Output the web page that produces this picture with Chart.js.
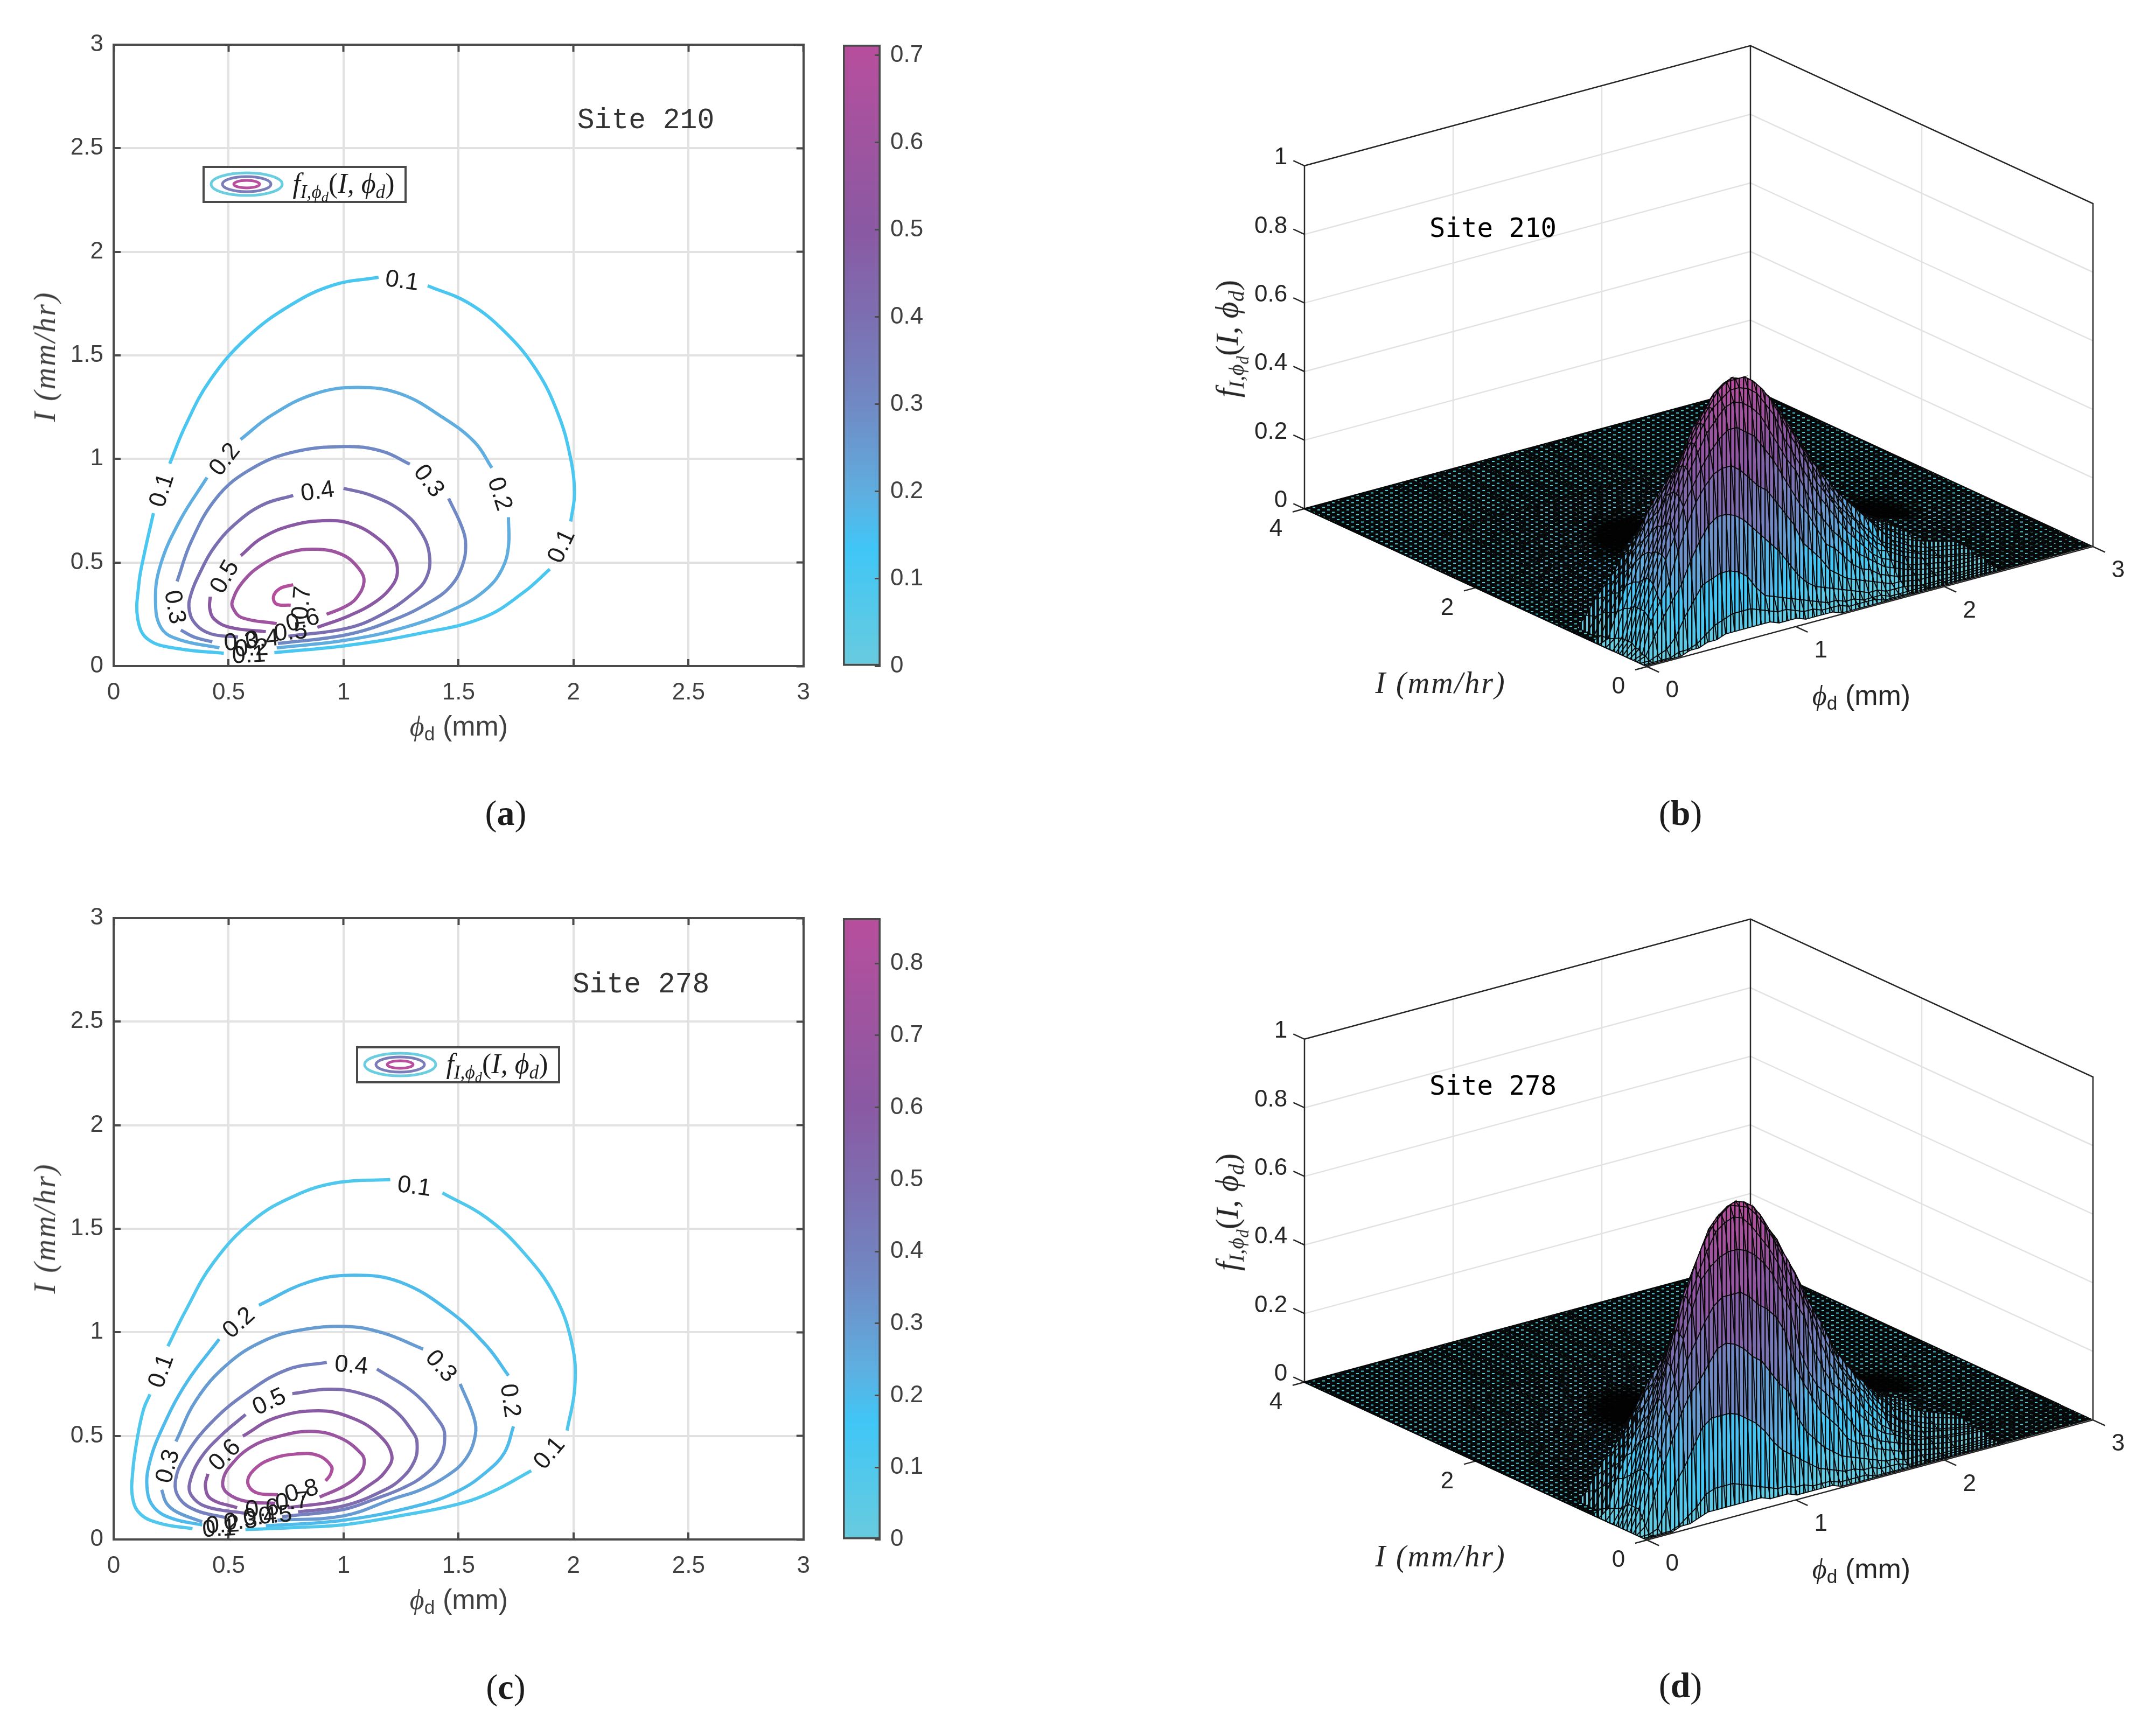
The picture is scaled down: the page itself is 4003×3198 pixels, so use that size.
<!DOCTYPE html>
<html>
<head>
<meta charset="utf-8">
<script src="https://cdn.jsdelivr.net/npm/chart.js@4"></script>
<style>
html,body{margin:0;padding:0;background:#fff}
#page{position:relative;width:4003px;height:3198px;overflow:hidden;background:#fff}
canvas{position:absolute}
.t{position:absolute;white-space:nowrap;line-height:1;z-index:5}
.t sub{font-size:.68em;vertical-align:-.28em;line-height:0}
.t sub sub{font-size:.75em}
.math{font-family:"Liberation Serif",serif;font-style:italic}
.up{font-style:normal}
.lg{position:absolute;box-sizing:border-box;width:379px;height:69px;border:4px solid #4a4a4a;background:#fff;z-index:4}
</style>
</head>
<body>
<div id="page"></div>
<script>
// shared axis ticks
const phiTicks = [0, 0.5, 1, 1.5, 2, 2.5, 3];
const intensityTicks = [0, 0.5, 1, 1.5, 2, 2.5, 3];
const cbarTicksA = [0, 0.1, 0.2, 0.3, 0.4, 0.5, 0.6, 0.7];
const cbarTicksC = [0, 0.1, 0.2, 0.3, 0.4, 0.5, 0.6, 0.7, 0.8];
const cmaxA = 0.712;
const cmaxC = 0.863;
const zTicks = [0, 0.2, 0.4, 0.6, 0.8, 1];
const iTicks3d = [0, 2, 4];
const phiTicks3d = [0, 1, 2, 3];

// colormap
const cmapStops = [0, 0.19, 0.28, 0.42, 0.56, 0.70, 0.84, 1];
const cmapColors = [[104,203,222],[64,198,246],[95,174,223],[112,137,196],[124,111,177],[138,89,163],[158,84,159],[184,78,157]];

// site 210 contours [phi, I], one list per stretch between the inline labels
const a1 = [[[.479,.062],[.287,.083],[.152,.127],[.105,.226],[.11,.4],[.131,.53],[.173,.738]],
  [[.244,.977],[.311,1.158],[.418,1.378],[.579,1.585],[.766,1.74],[.954,1.839],[1.152,1.877]],
  [[1.366,1.836],[1.543,1.753],[1.704,1.611],[1.838,1.43],[1.931,1.223],[1.985,1.016],[2.004,.835],[1.988,.698]],
  [[1.897,.468],[1.784,.357],[1.607,.234],[1.328,.157],[1.016,.0996],[.699,.065]]];
const a2 = [[[.46,.088],[.287,.127],[.208,.182],[.182,.312],[.203,.486],[.287,.70],[.406,.91]],
  [[.552,1.094],[.686,1.21],[.873,1.314],[1.061,1.345],[1.248,1.314],[1.436,1.197],[1.57,1.081],[1.645,.957]],
  [[1.717,.719],[1.717,.577],[1.69,.47],[1.625,.375],[1.5,.285],[1.276,.19],[1.016,.126],[.709,.088]]];
const a3 = [[[.429,.117],[.35,.14],[.292,.174]],
  [[.276,.409],[.338,.603],[.445,.809],[.579,.939],[.766,1.029],[1.007,1.06],[1.168,1.037],[1.288,.975]],
  [[1.457,.809],[1.516,.667],[1.531,.582],[1.515,.48],[1.465,.385],[1.38,.312],[1.224,.226],[1.016,.152],[.714,.109]]];
const a4 = [[[.541,.14],[.422,.156],[.355,.205],[.329,.27],[.334,.338],[.376,.452],[.443,.582],[.537,.694],[.651,.78],[.781,.824]],
  [[1.0,.858],[1.12,.824],[1.255,.746],[1.339,.642],[1.374,.53],[1.36,.426],[1.307,.356],[1.171,.252],[1.016,.183],[.76,.144]]];
const a5 = [[[.42,.335],[.418,.278],[.438,.226],[.506,.187],[.662,.166]],
  [[.553,.533],[.641,.616],[.765,.676],[.912,.702],[1.036,.686],[1.15,.616],[1.218,.53],[1.234,.452],[1.213,.39],[1.141,.312],[1.026,.244],[.886,.187]]];
const a6 = [[[.709,.205],[.557,.234],[.52,.278],[.516,.312],[.557,.4],[.641,.486],[.756,.546],[.879,.564],[.994,.538],[1.068,.468],[1.089,.408],[1.057,.33],[1.005,.286],[.926,.25]]];
const a7 = [[[.781,.393],[.723,.374],[.695,.335],[.709,.299],[.77,.294]]];
const contoursA = [a1, a2, a3, a4, a5, a6, a7];

// site 278 contours
const c1 = [[[.343,.052],[.204,.077],[.118,.121],[.083,.198],[.083,.327],[.102,.482],[.129,.624],[.158,.701]],
  [[.236,.933],[.311,1.1],[.431,1.332],[.605,1.539],[.793,1.662],[.98,1.724],[1.203,1.737]],
  [[1.43,1.673],[1.623,1.552],[1.784,1.384],[1.918,1.178],[1.993,.946],[2.006,.74],[1.972,.526]],
  [[1.816,.332],[1.65,.232],[1.5,.171],[1.25,.115],[1.0,.071],[.8,.058],[.573,.048]]];
const c2 = [[[.385,.07],[.255,.101],[.177,.153],[.146,.24],[.156,.37],[.214,.543],[.318,.759],[.459,.967]],
  [[.632,1.131],[.846,1.242],[1.047,1.276],[1.248,1.242],[1.463,1.1],[1.623,.933],[1.717,.791]],
  [[1.739,.546],[1.7,.42],[1.62,.325],[1.5,.235],[1.329,.165],[1.0,.093],[.662,.066]]];
const c3 = [[[.209,.24],[.23,.175],[.276,.132],[.385,.085]],
  [[.271,.473],[.359,.673],[.495,.846],[.651,.958],[.807,1.01],[1.015,1.028],[1.171,.997],[1.346,.919]],
  [[1.507,.751],[1.567,.587],[1.572,.499],[1.53,.387],[1.452,.309],[1.335,.24],[1.218,.197],[1.0,.114],[.713,.093]]];
const c4 = [[[.927,.855],[.755,.82],[.578,.707],[.422,.561],[.308,.396],[.268,.275],[.287,.197],[.359,.14],[.485,.106]],
  [[1.145,.823],[1.307,.707],[1.422,.561],[1.44,.5],[1.42,.396],[1.35,.309],[1.257,.248],[1.14,.197],[1.0,.145],[.733,.11]]];
const c5 = [[[.574,.603],[.474,.509],[.38,.395],[.331,.275],[.338,.213],[.401,.159],[.567,.127]],
  [[.777,.704],[.933,.725],[1.068,.707],[1.204,.639],[1.307,.509],[1.32,.448],[1.308,.378],[1.257,.3],[1.18,.24],[1.0,.162],[.802,.133]]];
const c6 = [[[.41,.317],[.399,.257],[.422,.197],[.537,.153]],
  [[.562,.499],[.703,.587],[.891,.621],[1.036,.587],[1.15,.509],[1.21,.404],[1.18,.326],[1.117,.266],[1.0,.195],[.756,.153]]];
const c7 = [[[.703,.174],[.578,.184],[.495,.223],[.474,.275],[.506,.353],[.599,.447],[.723,.499],[.859,.522],[.984,.491],[1.078,.413],[1.09,.37],[1.07,.318],[1.0,.257],[.896,.205]]];
const c8 = [[[.714,.216],[.62,.226],[.583,.275],[.609,.335],[.683,.387],[.797,.413],[.891,.405],[.947,.353],[.943,.314],[.922,.283]]];
const contoursC = [c1, c2, c3, c4, c5, c6, c7, c8];

// inline contour labels [text, phi, I, rotation in degrees]
const labelsA = [["0.1",1.254,1.857,8],["0.1",.212,.848,-72],["0.1",1.95,.577,-65],["0.2",.485,.996,-52],["0.2",1.677,.83,72],
  ["0.3",1.369,.892,52],["0.3",.263,.284,80],["0.4",.887,.84,-8],["0.5",.485,.43,-60],["0.7",.82,.305,-85],["0.6",.823,.218,-15],
  ["0.5",.77,.161,-5],["0.4",.646,.127,-5],["0.3",.553,.114,-5],["0.2",.6,.083,-3],["0.1",.588,.05,-3]];
const labelsC = [["0.1",1.307,1.701,8],["0.1",.209,.812,-70],["0.1",1.897,.415,-50],["0.2",.546,1.044,-42],["0.2",1.722,.67,82],
  ["0.3",1.422,.835,48],["0.3",.238,.353,-75],["0.4",1.034,.838,5],["0.5",.678,.662,-25],["0.6",.485,.405,-45],["0.8",.818,.231,-15],
  ["0.7",.776,.179,-5],["0.6",.646,.145,-5],["0.5",.703,.114,-5],["0.4",.636,.106,-5],["0.3",.552,.084,-5],["0.2",.474,.067,-3],["0.1",.459,.049,-3]];

// surface samples: z in hundredths, rows along surfaceI, columns along surfacePhi, missing tail = 0
const surfacePhi = [0,.06,.12,.18,.24,.3,.36,.42,.48,.54,.6,.66,.72,.78,.84,.9,.96,1.02,1.08,1.14,1.2,1.26,1.32,1.38,1.44,1.5,1.56,1.62,1.68,1.74,1.8,1.92,2.04,2.16,2.4,3];
const surfaceI = [.02,.04,.08,.12,.16,.2,.24,.28,.32,.36,.4,.48,.56,.64,.72,.8,.92,1.04,1.2,1.4,1.6,1.8,2,2.4,3,4];
const surfaceB = [
[0,0,0,0,0,1,1,2,2,3,3,3,3,3,3,2,2,2,1,1,1,1],
[0,0,0,0,1,1,2,4,6,7,8,8,8,7,6,5,5,4,3,3,2,2,2,1,1,1,1],
[0,0,1,2,5,10,14,18,19,20,20,19,17,13,10,9,8,7,6,5,4,3,3,2,2,1,1,1],
[0,1,6,11,15,19,25,30,34,36,36,35,33,30,27,24,21,17,13,10,8,7,6,5,4,3,2,2,1,1,1],
[0,1,10,15,20,28,35,41,45,48,49,49,47,44,41,39,35,31,27,21,18,15,11,9,7,6,5,4,3,2,2,1,1],
[0,2,11,17,26,32,40,45,50,54,57,59,59,57,55,51,47,42,37,32,28,23,18,16,13,10,8,7,5,4,3,2,1,1],
[0,2,12,19,27,35,42,49,54,59,62,65,66,65,63,60,55,50,45,41,35,29,25,21,18,15,12,10,8,6,5,3,2,1,1],
[0,3,12,20,27,35,43,50,56,61,65,67,69,69,68,66,62,58,51,46,41,36,31,27,23,19,16,13,10,8,7,4,3,2,1],
[0,3,12,20,27,34,43,50,56,61,65,69,71,71,71,69,66,62,57,51,46,41,35,31,27,23,19,16,13,10,9,6,4,3,1],
[0,3,12,19,26,33,42,49,55,60,64,68,70,71,70,69,66,63,59,54,49,44,39,34,29,25,22,19,15,12,10,7,5,3,1],
[0,3,11,18,26,33,41,47,53,59,62,66,68,69,69,68,66,63,60,56,51,46,41,37,32,28,24,20,17,14,11,8,5,4,2],
[0,2,10,17,24,30,36,43,48,53,58,61,63,65,65,65,63,62,59,55,52,47,44,39,35,31,27,24,21,18,15,9,6,4,2],
[0,1,8,15,21,27,33,39,44,48,51,54,56,58,58,58,57,56,54,52,49,46,43,39,35,32,28,25,22,19,16,10,7,5,2],
[0,1,7,12,18,24,30,35,40,43,46,48,50,51,51,51,51,51,51,49,47,44,41,38,35,32,28,25,22,19,16,11,8,5,3],
[0,0,6,11,16,21,26,32,36,39,41,43,44,45,45,45,45,45,45,44,42,41,38,35,33,30,27,24,21,19,16,12,8,6,3],
[0,0,4,9,13,17,21,27,32,34,36,38,40,40,41,41,41,41,41,40,39,37,35,33,31,28,25,22,20,18,16,12,9,6,3],
[0,0,3,7,10,13,17,20,24,28,30,32,33,34,34,34,34,34,34,34,33,32,30,29,27,25,23,20,18,16,15,12,9,6,3],
[0,0,2,5,8,11,13,16,19,21,24,26,28,29,30,30,31,30,30,29,28,27,26,25,23,22,20,18,17,15,14,11,9,6,3],
[0,0,1,3,6,9,11,13,15,16,18,20,21,22,23,24,24,25,24,24,23,23,22,21,20,19,17,16,15,14,12,10,8,6,3],
[0,0,0,1,3,6,8,10,11,13,14,15,16,16,17,18,18,18,18,18,18,18,17,17,16,15,14,14,13,12,11,9,7,5,2],
[0,0,0,0,1,3,4,6,7,9,10,11,12,12,13,13,13,13,13,13,13,13,13,12,12,12,11,11,10,10,9,7,5,4,2],
[0,0,0,0,0,2,3,4,5,6,7,8,8,9,9,10,10,10,11,11,11,11,10,10,10,9,9,8,8,7,7,6,4,3,1],
[0,0,0,0,0,1,2,3,4,4,5,5,6,6,7,7,7,8,8,8,8,8,8,8,7,7,7,6,6,6,5,4,3,2,1],
[0,0,0,0,0,0,1,1,2,2,2,3,3,3,4,4,4,4,4,4,4,4,4,4,4,4,3,3,3,3,3,2,2,1,1],
[0,0,0,0,0,0,0,0,0,0,1,1,1,1,1,1,1,1,1,1,1,1,1,1,1,1,1,1,1,1,1],
[]];
const surfaceD = [
[0,0,0,0,1,1,2,3,3,3,3,3,3,3,2,2,2,1,1,1,1,1],
[0,0,0,0,1,3,5,8,9,9,9,8,7,6,5,4,4,3,3,2,2,2,1,1,1,1],
[0,0,1,7,13,17,22,27,29,29,29,28,26,24,21,17,14,12,10,8,6,5,4,3,3,2,2,1,1,1],
[0,2,10,18,25,32,37,40,44,48,49,48,46,43,41,37,33,30,22,17,14,11,9,7,6,5,4,3,2,2,1,1],
[0,4,14,21,31,37,46,51,56,60,62,62,62,60,57,55,52,47,37,31,26,21,18,15,11,9,8,6,5,4,3,2,1],
[0,6,15,24,33,41,52,60,68,71,73,74,74,73,71,68,64,58,52,40,33,28,25,22,18,14,10,9,7,6,5,3,2,1],
[0,6,16,25,35,44,53,62,69,75,80,82,83,82,79,75,71,66,59,53,48,38,32,27,24,20,16,13,10,8,7,4,3,2,1],
[0,6,16,25,35,45,54,63,71,77,81,84,86,85,84,81,77,72,66,59,54,48,40,33,28,24,21,16,13,10,8,5,3,2,1],
[0,6,15,24,33,42,52,62,68,74,80,83,85,86,85,83,79,74,69,64,58,51,45,39,33,28,24,20,16,13,10,6,4,3,1],
[0,5,14,23,31,40,49,58,65,71,76,80,82,84,84,82,80,75,71,65,60,54,48,43,37,30,26,22,19,15,12,8,5,3,1],
[0,4,13,22,29,38,46,53,62,68,72,76,80,81,81,80,77,75,71,66,61,55,49,44,39,33,29,25,21,17,14,8,6,4,1],
[0,3,11,18,26,33,40,47,53,60,64,68,70,71,72,72,71,69,65,62,58,54,49,45,40,35,31,27,23,20,16,11,7,5,2],
[0,2,10,16,22,29,35,40,45,51,55,60,62,63,64,64,63,62,60,57,54,51,47,43,39,35,31,27,24,20,17,12,8,6,2],
[0,1,8,13,19,26,32,37,41,45,49,52,54,56,56,56,56,55,54,52,50,46,43,40,36,33,30,27,23,20,18,13,9,6,3],
[0,0,6,11,16,21,27,33,35,38,40,43,45,47,49,50,50,50,49,46,44,42,39,37,34,31,28,25,22,20,18,13,9,7,3],
[0,0,4,9,14,18,23,28,31,33,35,37,39,40,41,42,43,43,42,41,39,38,36,34,31,29,26,24,21,19,17,13,9,7,3],
[0,0,2,6,10,13,16,20,23,26,29,31,32,33,34,35,35,35,34,34,33,32,31,29,27,25,23,20,18,16,15,11,9,6,3],
[0,0,1,4,7,10,13,15,18,20,22,24,25,26,27,28,28,28,28,28,27,26,25,24,22,21,19,18,16,14,13,10,8,6,3],
[0,0,0,2,4,7,9,11,13,15,16,18,19,20,20,21,21,21,21,21,21,20,20,19,18,17,16,14,13,12,11,9,7,5,2],
[0,0,0,0,2,4,6,9,10,11,12,13,14,14,15,15,15,15,15,15,15,15,14,14,13,13,12,11,11,10,9,8,6,4,2],
[0,0,0,0,0,2,3,4,6,7,9,10,10,11,11,11,12,12,12,11,11,11,11,11,10,10,10,9,8,7,6,5,4,3,1],
[0,0,0,0,0,1,2,3,4,5,6,6,7,7,8,8,8,8,8,8,8,8,8,8,7,7,7,6,6,5,5,4,3,2,1],
[0,0,0,0,0,0,1,2,3,3,4,4,5,5,5,5,6,6,6,6,6,6,6,6,5,5,5,4,4,4,4,3,2,2,1],
[0,0,0,0,0,0,0,1,1,1,2,2,2,2,3,3,3,3,3,3,3,3,3,3,3,2,2,2,2,2,2,1,1,1],
[0,0,0,0,0,0,0,0,0,0,0,0,1,1,1,1,1,1,1,1,1,1,1,1,1,1,1,1,1,1,1],
[]];
// spots behind the hill where the mesh lines pile up into black [phi, I]
const darkSpots = [[1.11,2.19],[2.335,1.425]];

const page = document.getElementById('page');
const axisColor = '#4a4a4a';
const textColor = '#404040';
const sans = '"Liberation Sans", Arial, sans-serif';

function cmap(t){
  t = Math.max(0, Math.min(1, t));
  let i = 0;
  while (i < cmapStops.length - 2 && t > cmapStops[i+1]) i++;
  const f = (t - cmapStops[i]) / (cmapStops[i+1] - cmapStops[i]);
  return cmapColors[i].map((c,k) => Math.round(c + (cmapColors[i+1][k] - c) * f));
}
const rgb = c => 'rgb(' + c.join(',') + ')';

function addCanvas(x, y, w, h){
  const cv = document.createElement('canvas');
  cv.width = w; cv.height = h;
  cv.style.left = x + 'px'; cv.style.top = y + 'px';
  cv.style.width = w + 'px'; cv.style.height = h + 'px';
  page.appendChild(cv);
  return cv;
}
function addText(html, x, y, size, opts){
  opts = opts || {};
  const el = document.createElement('div');
  el.className = 't' + (opts.math ? ' math' : '');
  el.innerHTML = html;
  el.style.left = x + 'px'; el.style.top = y + 'px';
  el.style.fontSize = size + 'px';
  if (opts.font) el.style.fontFamily = opts.font;
  el.style.color = opts.color || '#222';
  if (opts.spacing) el.style.letterSpacing = opts.spacing;
  el.style.transform = 'translate(-50%,-50%)' + (opts.rot ? ' rotate(' + opts.rot + 'deg)' : '');
  page.appendChild(el);
}

// inline contour labels, drawn through the chart's scales
const contourLabelPlugin = {
  id: 'contourLabels',
  afterDatasetsDraw(chart, args, opts){
    const {ctx, scales} = chart;
    ctx.save();
    ctx.font = '45px ' + sans;
    ctx.fillStyle = '#1c1c1c';
    ctx.textAlign = 'center';
    ctx.textBaseline = 'middle';
    opts.items.forEach(([txt, p, i, deg]) => {
      ctx.save();
      ctx.translate(scales.x.getPixelForValue(p), scales.y.getPixelForValue(i));
      ctx.rotate(deg * Math.PI / 180);
      ctx.fillText(txt, 0, 0);
      ctx.restore();
    });
    ctx.restore();
  }
};

function boxAxis(position, ticks, extra){
  return Object.assign({
    type: 'linear', position: position, min: 0, max: 3,
    afterBuildTicks: a => { a.ticks = ticks.map(v => ({value: v})); },
    border: {display: true, color: axisColor, width: 4},
    grid: {color: '#e2e2e2', lineWidth: 4, tickLength: -13, tickWidth: 4, tickColor: axisColor},
  }, extra);
}

function contourChart(top, contours, labels, cmax){
  const cv = addCanvas(0, top, 1540, 1400);
  const datasets = [];
  contours.forEach((segs, k) => {
    const col = rgb(cmap((k + 1) / 10 / cmax));
    segs.forEach(seg => datasets.push({
      data: seg.map(([x, y]) => ({x, y})),
      showLine: true, tension: 0.4, pointRadius: 0,
      borderColor: col, borderWidth: 6, fill: false,
    }));
  });
  const tickFont = {family: sans, size: 44};
  new Chart(cv, {
    type: 'scatter',
    data: {datasets},
    options: {
      responsive: false, animation: false, events: [], devicePixelRatio: 1,
      layout: {autoPadding: false, padding: {top: 83, right: 43}},
      plugins: {legend: {display: false}, tooltip: {enabled: false}, contourLabels: {items: labels}},
      scales: {
        x: boxAxis('bottom', phiTicks, {
          ticks: {color: textColor, font: tickFont, padding: 36, maxRotation: 0, callback: v => String(v)},
          afterFit: s => { s.height = 163; },
        }),
        y: boxAxis('left', intensityTicks, {
          ticks: {color: textColor, font: tickFont, padding: 32, callback: v => String(v)},
          afterFit: s => { s.width = 211; },
        }),
        xTop: boxAxis('top', phiTicks, {
          ticks: {display: false},
          grid: {drawOnChartArea: false, tickLength: -13, tickWidth: 4, tickColor: axisColor},
          afterFit: s => { s.height = 0; },
        }),
        yRight: boxAxis('right', intensityTicks, {
          ticks: {display: false},
          grid: {drawOnChartArea: false, tickLength: -13, tickWidth: 4, tickColor: axisColor},
          afterFit: s => { s.width = 0; },
        }),
      },
    },
    plugins: [contourLabelPlugin],
  });
}

function colorbar(top, ticks, cmax){
  const cv = addCanvas(1540, top, 200, 1300);
  new Chart(cv, {
    type: 'bar',
    data: {labels: [''], datasets: [{
      data: [[0, cmax]], barPercentage: 1, categoryPercentage: 1,
      borderColor: axisColor, borderWidth: 4, borderSkipped: false,
      backgroundColor: ctx => {
        const a = ctx.chart.chartArea;
        if (!a) return cmapColors[0];
        const g = ctx.chart.ctx.createLinearGradient(0, a.bottom, 0, a.top);
        cmapStops.forEach((s, i) => g.addColorStop(s, rgb(cmapColors[i])));
        return g;
      },
    }]},
    options: {
      responsive: false, animation: false, events: [], devicePixelRatio: 1,
      layout: {autoPadding: false, padding: {left: 25, top: 83, bottom: 63}},
      plugins: {legend: {display: false}, tooltip: {enabled: false}},
      scales: {
        x: {display: false},
        y: {
          position: 'right', min: 0, max: cmax,
          afterBuildTicks: a => { a.ticks = ticks.map(v => ({value: v})); },
          border: {display: false},
          grid: {drawOnChartArea: false, tickLength: -11, tickWidth: 3, tickColor: axisColor, z: 1},
          ticks: {color: textColor, font: {family: sans, size: 44}, padding: 29, callback: v => String(v)},
          afterFit: s => { s.width = 105; },
        },
      },
    },
  });
}

// oblique view of the 3d box: figure pixels for (phi, I, z)
const view = {ox: 3058, oy: 1238, px: 276, py: -74.3, ix: -159, iy: -73.3, zy: -637};
function project(p, i, z){
  return {x: view.ox + p * view.px + i * view.ix, y: view.oy + p * view.py + i * view.iy + z * view.zy};
}
function polyline(pts, color, width){
  return {data: pts.map(q => project(q[0], q[1], q[2])), showLine: true, pointRadius: 0, tension: 0,
          borderColor: color, borderWidth: width, fill: false};
}

// tiles stand in for the dense mesh lines: hatch on the lit front of the hill, heavier hatch, then dots
const patternCtx = document.createElement('canvas').getContext('2d');
function meshTile(kind, color){
  const t = document.createElement('canvas');
  const c = t.getContext('2d');
  if (kind !== 'dots') {
    t.width = 8; t.height = 8;
    c.fillStyle = color; c.fillRect(0, 0, 8, 8);
    c.fillStyle = '#0a0a0a'; c.fillRect(0, 0, kind === 'hatch' ? 2.4 : 5, 8);
  } else {
    t.width = 18; t.height = 9;
    c.fillStyle = '#050808'; c.fillRect(0, 0, 18, 9);
    c.fillStyle = color;
    c.fillRect(2, 1, 5, 2); c.fillRect(11, 5.5, 5, 2);
  }
  return patternCtx.createPattern(t, 'repeat');
}
const floorColor = '#45cfdc';
function darkSpotImage(w, h){
  const t = document.createElement('canvas');
  t.width = w; t.height = h;
  const c = t.getContext('2d');
  c.translate(w / 2, h / 2); c.scale(1, h / w);
  const g = c.createRadialGradient(0, 0, 0, 0, 0, w / 2);
  g.addColorStop(0, 'rgba(2,2,2,1)'); g.addColorStop(.55, 'rgba(2,2,2,.95)'); g.addColorStop(1, 'rgba(2,2,2,0)');
  c.fillStyle = g; c.arc(0, 0, w / 2, 0, Math.PI * 2); c.fill();
  return t;
}

const textMarksPlugin = {
  id: 'textMarks',
  afterDatasetsDraw(chart, args, opts){
    const {ctx, scales} = chart;
    ctx.save();
    ctx.font = '44px ' + sans;
    ctx.fillStyle = '#262626';
    ctx.textBaseline = 'middle';
    opts.items.forEach(it => {
      ctx.textAlign = it.align;
      ctx.fillText(it.text, scales.x.getPixelForValue(it.pos.x), scales.y.getPixelForValue(it.pos.y));
    });
    ctx.restore();
  }
};

function surfaceChart(top, table, cmax){
  const cv = addCanvas(2300, top, 1703, 1400);
  const quant = 28;
  const tiles = new Map();
  const tile = (kind, k) => {
    const key = kind + k;
    if (!tiles.has(key)) tiles.set(key, meshTile(kind, k === 0 && kind === 'dots' ? floorColor : rgb(cmap(k / quant))));
    return tiles.get(key);
  };
  const draw = [];   // paint order, back to front

  const grid = '#e2e2e2', box = '#262626';
  zTicks.forEach(z => {
    draw.push(polyline([[0,4,z],[3,4,z],[3,0,z]], grid, 2.5));
  });
  draw.push(polyline([[1,4,0],[1,4,1]], grid, 2.5), polyline([[2,4,0],[2,4,1]], grid, 2.5), polyline([[3,2,0],[3,2,1]], grid, 2.5));
  draw.push(polyline([[0,4,0],[0,4,1],[3,4,1],[3,0,1],[3,0,0]], box, 2.5));
  draw.push(polyline([[3,4,0],[3,4,1]], box, 2.5));
  draw.push(polyline([[0,4,0],[0,0,0],[3,0,0]], box, 2.5));
  zTicks.forEach(z => draw.push(polyline([[0,4,z],[0,4.13,z]], box, 2.5)));
  iTicks3d.forEach(i => draw.push(polyline([[0,i,0],[-.08,i,0]], box, 2.5)));
  phiTicks3d.forEach(p => draw.push(polyline([[p,0,0],[p,-.14,0]], box, 2.5)));

  // far floor, nearly flat
  const floorFrom = .4;
  draw.push({data: [[0,floorFrom],[3,floorFrom],[3,4],[0,4],[0,floorFrom]].map(q => project(q[0], q[1], 0)),
    showLine: true, pointRadius: 0, tension: 0, indexAxis: 'y', fill: 'shape',
    backgroundColor: tile('dots', 0), borderColor: '#050808', borderWidth: 3});

  const pushSpots = () => darkSpots.forEach((s, n) => draw.push({
    data: [project(s[0], s[1], 0)], showLine: false,
    pointStyle: n === 0 ? darkSpotImage(170, 100) : darkSpotImage(210, 90), pointRadius: 10,
  }));
  let spotsDone = false;

  const zAt = (r, c) => (table[r][c] || 0) / 100;
  for (let r = surfaceI.length - 2; r >= 0; r--) {
    if (!spotsDone && surfaceI[r] < 1) { pushSpots(); spotsDone = true; }
    for (let c = surfacePhi.length - 2; c >= 0; c--) {
      const zs = [zAt(r,c), zAt(r,c+1), zAt(r+1,c+1), zAt(r+1,c)];
      const mean = (zs[0] + zs[1] + zs[2] + zs[3]) / 4;
      if (surfaceI[r] >= floorFrom && mean < .005) continue;
      const p0 = surfacePhi[c], p1 = surfacePhi[c+1], i0 = surfaceI[r], i1 = surfaceI[r+1];
      const k = Math.round(mean / cmax * quant);
      let kind = 'dots';
      if ((i0 < .56 && p0 < 1.8) || mean / cmax > .3) kind = 'hatch';
      else if ((i0 < .92 && p0 < 2.16) || (i0 < .56 && p0 < 2.4)) kind = 'heavy';
      draw.push({
        data: [project(p0,i0,zs[0]), project(p1,i0,zs[1]), project(p1,i1,zs[2]), project(p0,i1,zs[3]), project(p0,i0,zs[0])],
        showLine: true, pointRadius: 0, tension: 0, indexAxis: 'y', fill: 'shape',
        backgroundColor: tile(kind, k), borderColor: '#0a0a0a', borderWidth: 1.8,
      });
    }
  }

  const items = [];
  zTicks.forEach(z => items.push({text: String(z), pos: project(0, 4.2, z), align: 'right'}));
  iTicks3d.forEach(i => items.push({text: String(i), pos: project(-.31, i - .205, 0), align: 'center'}));
  phiTicks3d.forEach(p => items.push({text: String(p), pos: project(p - .116, -.496, 0), align: 'center'}));

  new Chart(cv, {
    type: 'scatter',
    data: {datasets: draw.reverse()},
    options: {
      responsive: false, animation: false, events: [], devicePixelRatio: 1,
      layout: {autoPadding: false, padding: 0},
      plugins: {legend: {display: false}, tooltip: {enabled: false}, textMarks: {items}},
      scales: {
        x: {type: 'linear', display: false, min: 2300, max: 4003},
        y: {type: 'linear', display: false, min: 0, max: 1400, reverse: true},
      },
    },
    plugins: [textMarksPlugin],
  });
}

function legendBox(x, y){
  const lg = document.createElement('div');
  lg.className = 'lg';
  lg.style.left = x + 'px'; lg.style.top = y + 'px';
  lg.innerHTML = '<svg width="160" height="61" style="position:absolute;left:0;top:0">' +
    '<ellipse cx="78" cy="30" rx="66" ry="21" fill="none" stroke="#6bcde0" stroke-width="5"/>' +
    '<ellipse cx="78" cy="30" rx="45" ry="14" fill="none" stroke="#7a7db8" stroke-width="5"/>' +
    '<ellipse cx="78" cy="30" rx="24" ry="7" fill="none" stroke="#b84e9d" stroke-width="5"/></svg>';
  page.appendChild(lg);
  addText(fLabel, x + 262, y + 33, 52, {math: true, color: '#1c1c1c'});
}

const fLabel = 'f<sub>I,ϕ<sub>d</sub></sub><span class="up">(</span>I, ϕ<sub>d</sub><span class="up">)</span>';
const phiLabel = '<span class="math">ϕ</span><sub>d</sub> (mm)';

contourChart(0, contoursA, labelsA, cmaxA);
contourChart(1622, contoursC, labelsC, cmaxC);
colorbar(0, cbarTicksA, cmaxA);
colorbar(1622, cbarTicksC, cmaxC);
surfaceChart(0, surfaceB, cmaxA);
surfaceChart(1622, surfaceD, cmaxC);

[0, 1622].forEach(dy => {
  addText(phiLabel, 852, 1348 + dy, 52, {font: sans, color: textColor});
  addText('I (mm/hr)', 83, (dy ? 2281 : 662), 56, {math: true, color: textColor, rot: -90, spacing: '3px'});
  addText(phiLabel, 3456, 1291 + dy, 52, {font: sans, color: '#262626'});
  addText('I (mm/hr)', 2675, 1268 + dy, 56, {math: true, color: '#262626', spacing: '3px'});
  addText(fLabel, 2278, 629 + dy, 60, {math: true, color: '#262626', rot: -90});
});

addText('Site 210', 1199, 224, 53, {font: '"Liberation Mono", monospace', color: '#333'});
addText('Site 278', 1190, 1829, 53, {font: '"Liberation Mono", monospace', color: '#333'});
addText('Site 210', 2772, 423, 49, {font: '"DejaVu Sans Mono", monospace', color: '#000'});
addText('Site 278', 2772, 2016, 49, {font: '"DejaVu Sans Mono", monospace', color: '#000'});
legendBox(376, 308);
legendBox(661, 1943);

const panelFont = '"Liberation Serif", serif';
[['a', 939, 1510], ['b', 3120, 1510], ['c', 939, 3133], ['d', 3120, 3130]].forEach(([l, x, y]) => {
  addText('(<b>' + l + '</b>)', x, y, 66, {font: panelFont, color: '#1c1c1c'});
});
</script>
</body>
</html>
